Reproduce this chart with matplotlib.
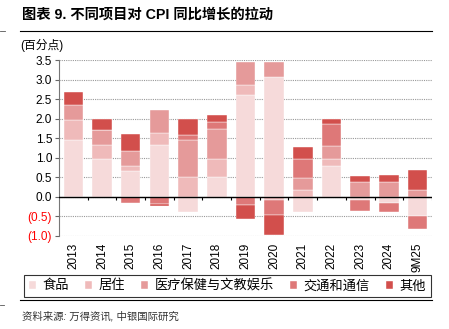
import matplotlib as mpl
import matplotlib.pyplot as plt
import numpy as np
from matplotlib.lines import Line2D

mpl.rcParams['font.family'] = ['Liberation Sans', 'Noto Sans CJK SC', 'DejaVu Sans']
mpl.rcParams['axes.unicode_minus'] = False

years = ['2013', '2014', '2015', '2016', '2017', '2018', '2019', '2020',
         '2021', '2022', '2023', '2024', '9M25']
food = [1.46, 0.97, 0.65, 1.33, -0.39, 0.50, 2.61, 3.06, -0.39, 0.80, -0.09, -0.16, -0.50]
housing = [0.51, 0.36, 0.15, 0.31, 0.51, 0.47, 0.26, -0.09, 0.18, 0.16, 0.00, 0.00, 0.00]
medical = [0.38, 0.38, 0.38, 0.58, 0.95, 0.77, 0.57, 0.38, 0.30, 0.34, 0.39, 0.37, 0.18]
transport = [-0.03, 0.00, -0.15, -0.18, 0.12, 0.17, -0.20, -0.37, 0.49, 0.57, -0.26, -0.22, -0.32]
other = [0.32, 0.28, 0.43, -0.05, 0.41, 0.19, -0.36, -0.51, 0.30, 0.13, 0.15, 0.19, 0.51]

names = ['食品', '居住', '医疗保健与文教娱乐', '交通和通信', '其他']
colors = ['#f6dada', '#efbaba', '#e59a9a', '#de7878', '#d24f4c']


def main():
    fig = plt.figure(figsize=(4.49, 3.29), dpi=100)
    ax = fig.add_axes([0.1314, 0.2827, 0.8306, 0.5349])

    x = np.arange(len(years))
    pos = np.zeros(len(years))
    neg = np.zeros(len(years))
    for vals, name, c in zip([food, housing, medical, transport, other], names, colors):
        v = np.array(vals)
        bottom = np.where(v >= 0, pos, neg)
        ax.bar(x, v, 0.68, bottom=bottom, color=c, label=name,
               edgecolor='white', linewidth=0.3, zorder=3)
        pos += np.clip(v, 0, None)
        neg += np.clip(v, None, 0)

    ax.set_xlim(-0.5, len(years) - 0.5)
    ax.set_ylim(-1.0, 3.5)
    ticks = np.arange(-1.0, 3.51, 0.5)
    ax.set_yticks(ticks)
    ax.set_yticklabels(['(%.1f)' % -t if t < 0 else '%.1f' % t for t in ticks])
    for lab, t in zip(ax.get_yticklabels(), ticks):
        if t < 0:
            lab.set_color('red')
    ax.grid(axis='y', linestyle=(0, (1, 1)), color='#999999', linewidth=0.8, zorder=0)
    ax.tick_params(axis='y', labelsize=8.5, length=3, color='#666666', pad=2)

    ax.set_xticks(x)
    ax.set_xticklabels(years, rotation=90, fontsize=8.5)
    ax.tick_params(axis='x', length=0, pad=5)

    for s in ['top', 'right', 'bottom']:
        ax.spines[s].set_visible(False)
    ax.spines['left'].set_color('#777777')

    # zero line with category separators
    ax.axhline(0, color='black', linewidth=1.0, zorder=4)
    ax.vlines(np.append(x[1:] - 0.5, len(years) - 0.5), -0.07, 0,
              color='black', linewidth=0.8, zorder=4)

    fig.text(0.049, 0.955, '图表 9. 不同项目对 CPI 同比增长的拉动', fontsize=10.3,
             fontweight='bold', va='center')
    fig.add_artist(Line2D([0.045, 0.962], [0.906, 0.906], color='black', linewidth=0.8))
    fig.add_artist(Line2D([0.0, 0.011], [0.906, 0.906], color='#555555', linewidth=0.6))
    fig.text(0.045, 0.862, '(百分点)', fontsize=8.5, va='center')

    leg = fig.legend(loc='lower left', bbox_to_anchor=(0.0535, 0.097, 0.906, 0.076),
                     ncol=5, mode='expand', fontsize=9.5, frameon=True, fancybox=False,
                     handlelength=0.55, handleheight=0.55, handletextpad=0.5,
                     borderaxespad=0, columnspacing=0.6, borderpad=0.35)
    leg.get_frame().set_edgecolor('black')
    leg.get_frame().set_linewidth(0.8)

    fig.add_artist(Line2D([0.045, 0.962], [0.088, 0.088], color='black', linewidth=0.8))
    fig.add_artist(Line2D([0.0, 0.008], [0.073, 0.073], color='#555555', linewidth=0.6))
    fig.text(0.049, 0.04, '资料来源: 万得资讯, 中银国际研究', fontsize=7.5,
             color='#333333', va='center', style='italic')

    fig.savefig('out.png', dpi=100)


if __name__ == '__main__':
    main()
